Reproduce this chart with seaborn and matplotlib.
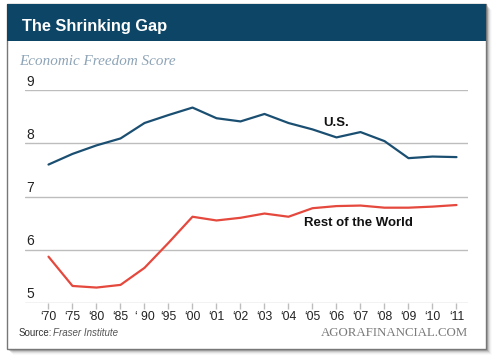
"""The Shrinking Gap: economic freedom score, U.S. vs rest of the world."""

import matplotlib
matplotlib.use('Agg')
import matplotlib.pyplot as plt
import matplotlib.transforms as mtransforms
from matplotlib.patches import Rectangle
import pandas as pd
import seaborn as sns

YEARS = ['\u201870', '\u201875', '\u201880', '\u201885', '\u2018 90', '\u201895', '\u201800',
         '\u201801', '\u201802', '\u201803', '\u201804', '\u201805', '\u201806', '\u201807',
         '\u201808', '\u201809', '\u201810', '\u201811']
US = [7.60, 7.80, 7.96, 8.09, 8.38, 8.53, 8.67, 8.47, 8.41, 8.55, 8.38, 8.26,
      8.11, 8.21, 8.04, 7.72, 7.75, 7.74]
ROW = [5.87, 5.32, 5.29, 5.34, 5.66, 6.13, 6.62, 6.55, 6.60, 6.68, 6.62, 6.78,
       6.82, 6.83, 6.79, 6.79, 6.81, 6.84]
Y_TICKS = [5, 6, 7, 8, 9]

NAVY = '#0c4566'
BLUE = '#1b4f72'
RED = '#e5483d'
GRID = '#bdbdbd'

W, H = 500, 361


def fx(px):
    return px / W


def fy(py):
    return 1 - py / H


sns.set_theme(style='white')
plt.rcParams['font.family'] = ['Liberation Sans', 'DejaVu Sans']

fig = plt.figure(figsize=(W / 100, H / 100), dpi=100)
fig.patch.set_facecolor('white')

# card with soft drop shadow
x0, x1, top, bot = 7, 486, 4, 349
for i, a in enumerate([0.22, 0.16, 0.11, 0.07, 0.04, 0.02]):
    off = i + 1
    fig.patches.append(Rectangle((fx(x0 + off), fy(bot + off)), fx(x1 - x0), (bot - top) / H,
                                 transform=fig.transFigure, facecolor='black', alpha=a,
                                 edgecolor='none', zorder=-10))
fig.patches.append(Rectangle((fx(x0), fy(bot)), fx(x1 - x0), (bot - top) / H,
                             transform=fig.transFigure, facecolor='white',
                             edgecolor='#777777', linewidth=1.0, zorder=-5))
fig.patches.append(Rectangle((fx(x0), fy(41)), fx(x1 - x0), (41 - top) / H,
                             transform=fig.transFigure, facecolor=NAVY,
                             edgecolor='none', zorder=-4))

fig.text(fx(22), fy(30.5), 'The Shrinking Gap', color='white', fontsize=11.8,
         fontweight='bold', va='baseline', ha='left')
fig.text(fx(19), fy(65), 'Economic Freedom Score', color='#8ea4b7', fontsize=10.9,
         family='Liberation Serif', style='italic', va='baseline', ha='left')
fig.text(fx(19), fy(336), 'Source:', color='#333333', fontsize=7, va='baseline', ha='left')
fig.text(fx(53), fy(336), 'Fraser Institute', color='#555555', fontsize=7, style='italic',
         va='baseline', ha='left')
fig.text(fx(468), fy(336.5), 'AGORAFINANCIAL.COM', color='#7a7a7a', fontsize=9.3,
         family='Liberation Serif', va='baseline', ha='right')

# plot area: value 5 at y=303px, value 9 at y=90px
ax = fig.add_axes([fx(25), fy(303), fx(468 - 25), (303 - 90) / H])
ax.patch.set_alpha(0)

df = pd.DataFrame({
    'idx': list(range(len(YEARS))) * 2,
    'score': US + ROW,
    'series': ['U.S.'] * len(US) + ['Rest of the World'] * len(ROW),
})
sns.lineplot(data=df, x='idx', y='score', hue='series',
             palette={'U.S.': BLUE, 'Rest of the World': RED},
             linewidth=1.6, legend=False, ax=ax)

ax.set_ylim(5, 9)
ax.set_xlim((25 - 48.5) / 24, (468 - 48.5) / 24)
for s in ax.spines.values():
    s.set_visible(False)
ax.set_yticks(Y_TICKS)
ax.set_yticklabels([])
ax.yaxis.grid(True, color=GRID, linewidth=1.0)
ax.xaxis.grid(False)
ax.tick_params(axis='y', length=0)
ax.set_xticks(range(len(YEARS)))
ax.set_xticklabels(YEARS, fontsize=8.8, color='#222222')
ax.tick_params(axis='x', bottom=True, length=4, width=1, color=GRID, pad=2)
ax.set_xlabel('')
ax.set_ylabel('')

ylab_tr = mtransforms.offset_copy(ax.get_yaxis_transform(), fig=fig, x=1.5, y=4.5, units='dots')
for v in Y_TICKS:
    ax.text(0, v, str(v), transform=ylab_tr, ha='left', va='baseline',
            fontsize=10, color='#222222')

ax.text(12.0, 8.38, 'U.S.', fontsize=9.5, fontweight='bold', color='#111111',
        ha='center', va='center')
ax.text(12.9, 6.50, 'Rest of the World', fontsize=9.5, fontweight='bold', color='#111111',
        ha='center', va='center')

fig.savefig('out.png', dpi=100)
